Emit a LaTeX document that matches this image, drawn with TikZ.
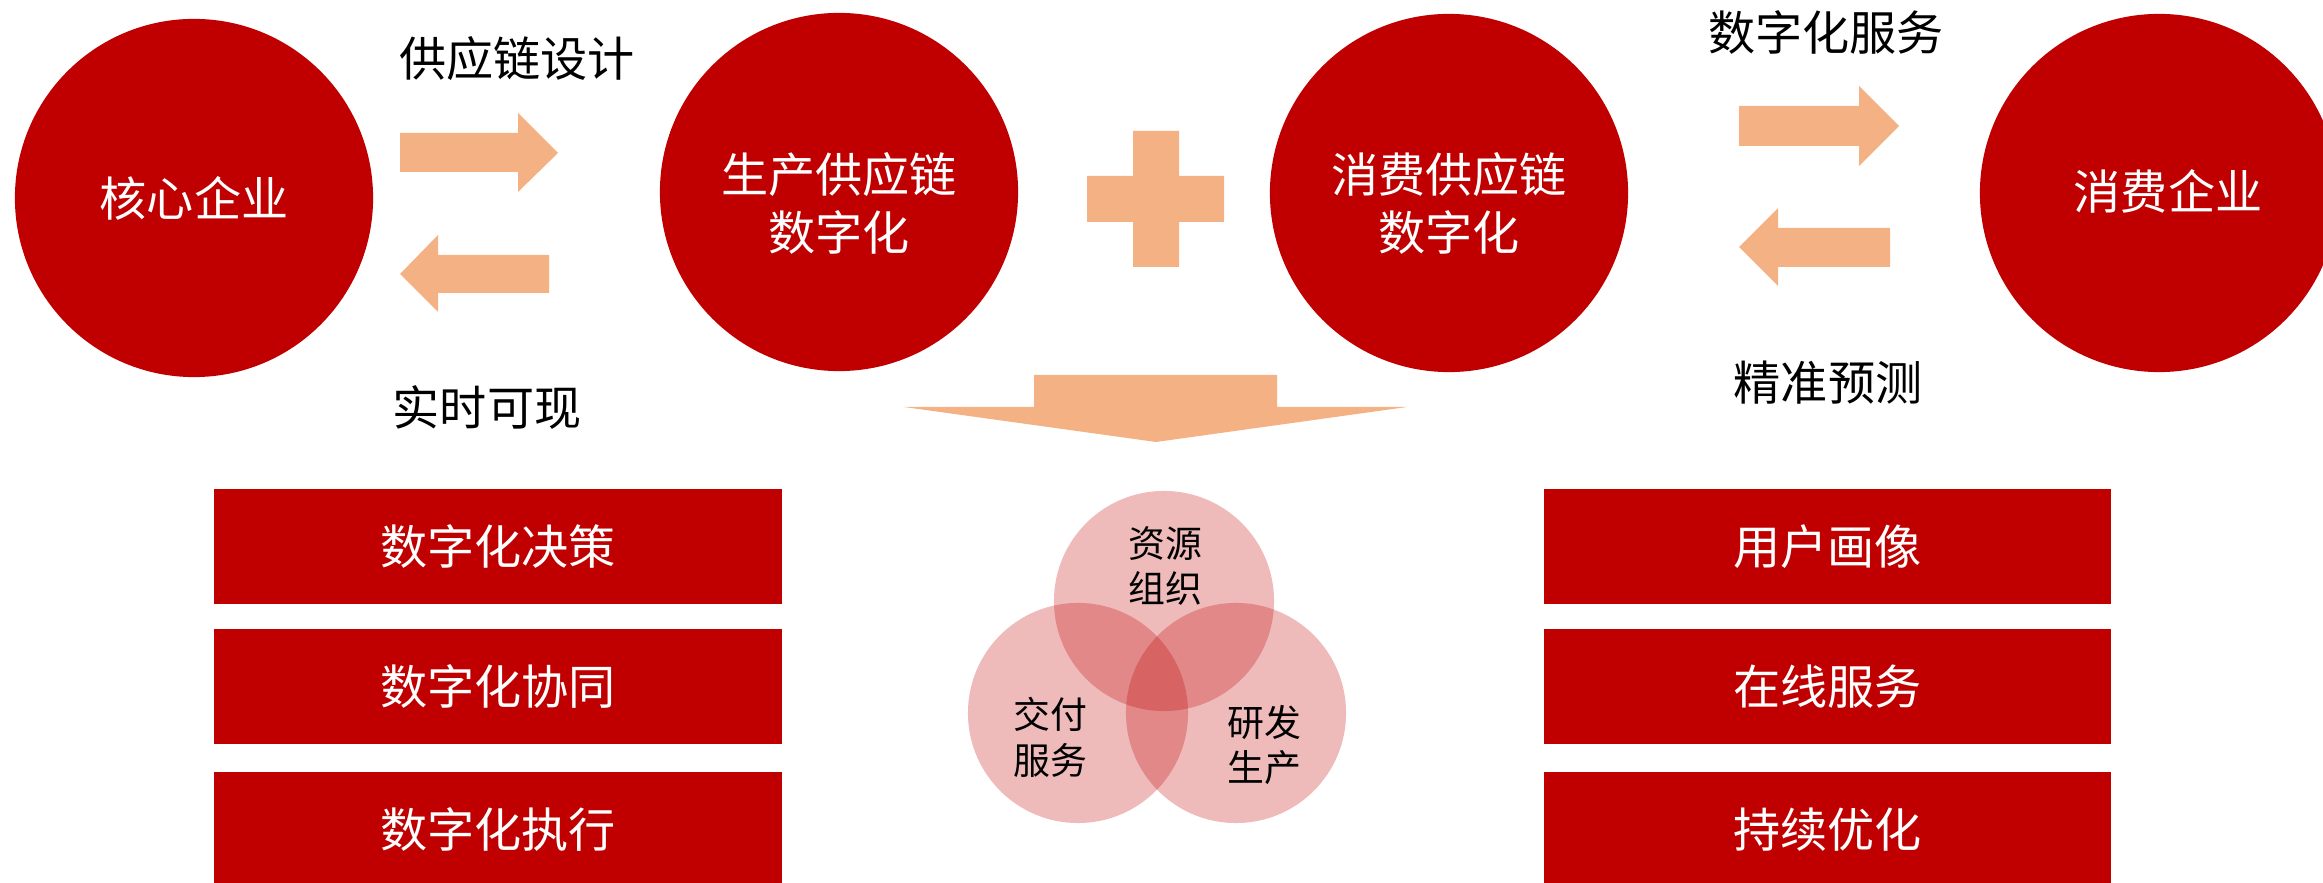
\documentclass[tikz,border=0pt]{standalone}
\usepackage{fontspec}
\newfontfamily\cjk{Noto Sans CJK SC}
\definecolor{mainred}{RGB}{192,0,0}
\definecolor{peach}{RGB}{244,177,131}
\begin{document}
\begin{tikzpicture}[x=0.01cm,y=-0.01cm,
  bigfont/.style={font=\cjk\fontsize{13.4pt}{16.5pt}\selectfont},
  bigc/.style={circle, fill=mainred, minimum size=3.58cm, inner sep=0pt},
  ctext/.style={bigfont, text=white, align=center, inner sep=0pt},
  box/.style={rectangle, fill=mainred, minimum width=5.67cm, minimum height=1.15cm, inner sep=0pt, text=white, bigfont},
  lbl/.style={bigfont, text=black, inner sep=0pt},
  venn/.style={circle, fill=mainred, fill opacity=0.27, minimum size=2.2cm, inner sep=0pt},
  vlbl/.style={font=\cjk\fontsize{10.5pt}{13pt}\selectfont, align=center, text=black, inner sep=0pt},
  arr/.style={fill=peach}]
\useasboundingbox (0,0) rectangle (2323,883);
\clip (0,0) rectangle (2323,883);

% big circles
\node[bigc] (c1) at (194,198) {};
\node[bigc] (c2) at (839,192) {};
\node[bigc] (c3) at (1449,193) {};
\node[bigc] (c4) at (2159,193) {};
\node[ctext] (t1) at (c1) {核心企业};
\node[ctext] (t2) at (839,203) {生产供应链\\数字化};
\node[ctext] (t3) at (1449,203) {消费供应链\\数字化};
\node[ctext] (t4) at (2168,191) {消费企业};

% block arrows
\fill[arr] (400,133) -- (518,133) -- (518,113) -- (558,153) -- (518,192) -- (518,172) -- (400,172) -- cycle;
\fill[arr] (400,274) -- (438,235) -- (438,255) -- (549,255) -- (549,293) -- (438,293) -- (438,312) -- cycle;
\fill[arr] (1739,106) -- (1859,106) -- (1859,86) -- (1899,126) -- (1859,166) -- (1859,146) -- (1739,146) -- cycle;
\fill[arr] (1739,247) -- (1778,208) -- (1778,228) -- (1890,228) -- (1890,267) -- (1778,267) -- (1778,286) -- cycle;
% plus
\fill[arr] (1133,131) -- (1179,131) -- (1179,176) -- (1224,176) -- (1224,222) -- (1179,222) -- (1179,267) -- (1133,267) -- (1133,222) -- (1087,222) -- (1087,176) -- (1133,176) -- cycle;
% down chevron
\fill[arr] (1034,375) -- (1277,375) -- (1277,407) -- (1407,407) -- (1156,442) -- (904,407) -- (1034,407) -- cycle;

% arrow labels
\node[lbl] (l1) at (517,59) {供应链设计};
\node[lbl] (l2) at (487,408) {实时可现};
\node[lbl] (l3) at (1826,33) {数字化服务};
\node[lbl] (l4) at (1828,383) {精准预测};

% boxes
\node[box] (b1) at (498,546.5) {数字化决策};
\node[box] (b2) at (498,686.5) {数字化协同};
\node[box] (b3) at (498,829.5) {数字化执行};
\node[box] (b4) at (1827.5,546.5) {用户画像};
\node[box] (b5) at (1827.5,686.5) {在线服务};
\node[box] (b6) at (1827.5,829.5) {持续优化};

% venn
\node[venn] (v1) at (1164,601) {};
\node[venn] (v2) at (1078,713) {};
\node[venn] (v3) at (1236,713) {};
\node[vlbl] (vt1) at (1165,566) {资源\\组织};
\node[vlbl] (vt2) at (1050,737) {交付\\服务};
\node[vlbl] (vt3) at (1264,745) {研发\\生产};
\end{tikzpicture}
\end{document}
